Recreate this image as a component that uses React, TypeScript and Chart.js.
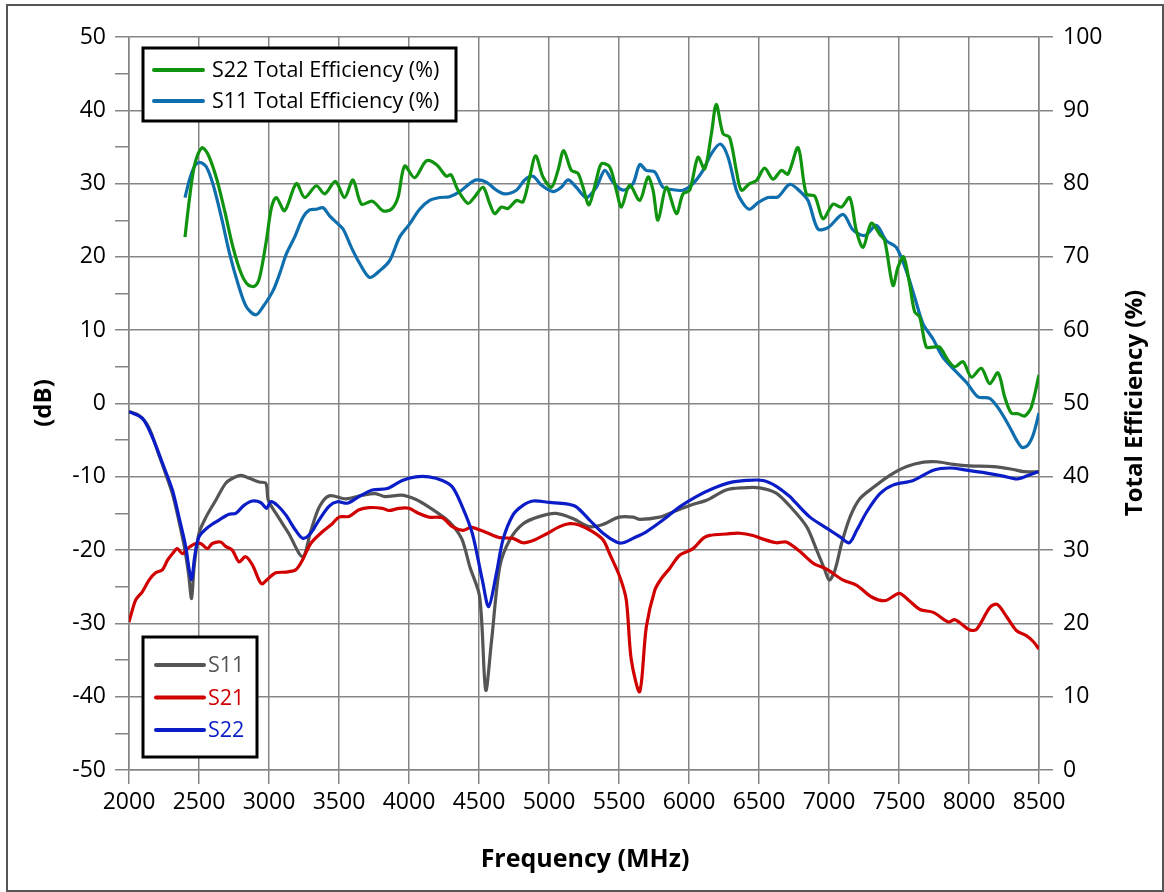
import React, { useEffect, useRef } from "react";
import { Chart, registerables } from "chart.js";

Chart.register(...registerables);

const FONT = "'Open Sans', sans-serif";
const GRID = "#858585";

// Axis ranges / ticks
const xMin = 2000;
const xMax = 8500;
const xStep = 500;
const dbMin = -50;
const dbMax = 50;
const effMin = 0;
const effMax = 100;

// S11 (dB)
const s11Freq = [2000, 2070, 2140, 2210, 2260, 2310, 2355, 2395, 2425, 2447, 2465, 2500, 2550, 2620, 2690, 2740, 2800, 2860, 2930, 2978, 2995, 3050, 3140, 3240, 3300, 3360, 3430, 3550, 3670, 3760, 3830, 3950, 4050, 4140, 4260, 4320, 4380, 4435, 4505, 4548, 4590, 4648, 4720, 4815, 4935, 5050, 5170, 5290, 5385, 5500, 5600, 5650, 5790, 5885, 6005, 6125, 6265, 6385, 6505, 6620, 6720, 6840, 6912, 6970, 7002, 7043, 7090, 7150, 7220, 7320, 7435, 7555, 7675, 7770, 7890, 8005, 8175, 8315, 8390, 8500];
const s11Db = [-1.1, -1.6, -3.2, -6.8, -9.5, -12.3, -15.9, -19.5, -23.2, -26.6, -22.3, -17.7, -15.5, -13.2, -10.9, -10.2, -9.8, -10.2, -10.7, -10.9, -13.2, -15, -17.7, -20.9, -17.3, -14.1, -12.6, -13, -12.5, -12.3, -12.7, -12.5, -13.1, -14.1, -15.7, -16.8, -18.6, -22.3, -26.4, -39.1, -32.3, -22.3, -18.6, -16.4, -15.4, -15, -15.7, -16.8, -16.5, -15.5, -15.5, -15.8, -15.5, -14.8, -13.9, -13.2, -11.8, -11.5, -11.5, -12.2, -14, -16.8, -20, -22.7, -24.1, -22.7, -19.1, -15.5, -13, -11.4, -9.8, -8.6, -8, -7.95, -8.3, -8.5, -8.6, -9, -9.3, -9.3];

// S21 (dB)
const s21Freq = [2000, 2048, 2095, 2143, 2190, 2238, 2274, 2310, 2345, 2381, 2417, 2464, 2512, 2560, 2595, 2655, 2690, 2738, 2786, 2833, 2881, 2929, 2952, 2988, 3048, 3119, 3190, 3238, 3298, 3381, 3452, 3500, 3571, 3643, 3714, 3810, 3857, 3929, 4000, 4071, 4143, 4238, 4310, 4386, 4445, 4552, 4648, 4743, 4814, 4886, 4981, 5076, 5148, 5219, 5314, 5386, 5433, 5505, 5552, 5588, 5648, 5695, 5755, 5802, 5862, 5933, 6029, 6100, 6148, 6267, 6362, 6457, 6529, 6624, 6695, 6793, 6888, 6983, 7102, 7198, 7305, 7400, 7502, 7567, 7650, 7745, 7852, 7900, 8007, 8055, 8150, 8202, 8269, 8340, 8412, 8460, 8500];
const s21Db = [-29.8, -26.8, -25.7, -24.1, -23.1, -22.7, -21.4, -20.5, -19.8, -20.5, -19.8, -19.2, -19.1, -19.8, -19.1, -18.9, -19.5, -20, -21.6, -20.9, -22, -24.1, -24.6, -24, -23.1, -23, -22.7, -21.4, -19.1, -17.5, -16.4, -15.5, -15.4, -14.5, -14.2, -14.3, -14.6, -14.3, -14.3, -15, -15.5, -15.6, -16.8, -17.3, -16.9, -17.6, -18.3, -18.4, -19, -18.7, -17.8, -16.8, -16.4, -16.6, -17.5, -18.6, -20.5, -23.6, -26.8, -35, -39.3, -30.5, -25.5, -23.9, -22.5, -20.7, -19.8, -18.4, -18, -17.8, -17.7, -18, -18.5, -19, -18.9, -20.2, -21.8, -22.6, -24.1, -24.8, -26.4, -26.9, -25.9, -26.8, -28.1, -28.5, -29.8, -29.5, -30.9, -30.8, -27.8, -27.4, -29.1, -31, -31.7, -32.5, -33.5];

// S22 (dB)
const s22Freq = [2000, 2095, 2165, 2240, 2310, 2357, 2405, 2430, 2448, 2469, 2500, 2570, 2643, 2714, 2762, 2821, 2881, 2940, 2983, 3012, 3060, 3120, 3190, 3243, 3298, 3357, 3430, 3488, 3560, 3643, 3738, 3845, 3952, 4048, 4143, 4238, 4310, 4381, 4452, 4524, 4569, 4624, 4671, 4743, 4814, 4886, 5005, 5124, 5195, 5290, 5386, 5481, 5529, 5600, 5695, 5814, 5933, 6052, 6171, 6290, 6410, 6529, 6624, 6720, 6760, 6864, 6983, 7079, 7145, 7198, 7269, 7364, 7460, 7602, 7745, 7864, 7983, 8126, 8245, 8340, 8412, 8495];
const s22Db = [-1.1, -2, -4.5, -8.2, -11.8, -15.5, -19.5, -22.7, -24, -20.9, -18.2, -16.8, -15.9, -15.1, -15, -13.9, -13.3, -13.5, -14.3, -13.4, -13.9, -15.2, -17.3, -18.4, -17.7, -15.9, -14, -13.4, -13.6, -12.7, -11.8, -11.6, -10.5, -10, -10, -10.5, -11.4, -14.1, -17.7, -24.1, -27.7, -23.2, -18.6, -15.2, -13.9, -13.3, -13.5, -13.7, -14.1, -15.9, -17.7, -18.9, -19, -18.4, -17.5, -15.9, -14.1, -12.7, -11.6, -10.8, -10.5, -10.5, -11.3, -12.7, -13.5, -15.5, -17, -18.2, -19, -17.3, -14.8, -12.3, -11.1, -10.5, -9.1, -8.8, -9.1, -9.5, -9.9, -10.3, -9.9, -9.3];

// S22 Total Efficiency (%)
const e22Freq = [2400, 2433, 2469, 2521, 2564, 2624, 2683, 2743, 2802, 2850, 2898, 2933, 2981, 3017, 3052, 3112, 3195, 3255, 3338, 3398, 3474, 3540, 3600, 3660, 3738, 3814, 3874, 3921, 3969, 4040, 4124, 4195, 4267, 4300, 4350, 4421, 4469, 4529, 4576, 4612, 4660, 4707, 4767, 4814, 4862, 4905, 4957, 5017, 5064, 5105, 5160, 5207, 5243, 5286, 5338, 5374, 5433, 5481, 5517, 5576, 5648, 5707, 5743, 5779, 5838, 5910, 5957, 6005, 6064, 6112, 6160, 6195, 6243, 6290, 6338, 6374, 6433, 6481, 6540, 6600, 6660, 6707, 6779, 6838, 6898, 6957, 7029, 7088, 7148, 7195, 7243, 7302, 7362, 7398, 7457, 7493, 7533, 7576, 7612, 7648, 7695, 7743, 7790, 7850, 7898, 7957, 8017, 8088, 8148, 8207, 8255, 8302, 8350, 8398, 8445, 8500];
const e22Eff = [72.7, 78.1, 82.6, 84.9, 84, 80.8, 76.3, 71.3, 67.7, 66.2, 66, 67.2, 72.2, 76.7, 78.1, 76.3, 80, 78.1, 79.7, 78.6, 80.3, 78.1, 80.5, 77.2, 77.6, 76.3, 76.5, 78.1, 82.4, 80.8, 83.1, 82.6, 81, 81.2, 79.1, 77.3, 78.2, 79.5, 77.3, 75.9, 76.8, 76.6, 77.7, 77.5, 80.9, 83.8, 80.9, 79.5, 81.8, 84.5, 81.8, 81.4, 79.5, 77.1, 80.5, 82.7, 82.3, 79.1, 76.8, 79.8, 77.7, 80.9, 79.1, 75, 79.5, 75.9, 78.6, 79.1, 83.6, 82, 86.8, 90.8, 86.8, 86.3, 81.8, 79.1, 80, 80.4, 82.1, 80.6, 81.8, 81.3, 84.9, 78.6, 78.3, 75.2, 77.2, 76.8, 78.1, 73.6, 71.3, 74.6, 73.1, 72.2, 66.1, 68.6, 70, 66.3, 62.5, 61.8, 57.7, 57.7, 57.7, 55.9, 55, 55.7, 53.6, 54.8, 52.7, 54.2, 50.9, 48.7, 48.6, 48.3, 49.5, 53.9];

// S11 Total Efficiency (%)
const e11Freq = [2400, 2433, 2469, 2505, 2552, 2600, 2660, 2719, 2779, 2838, 2905, 2957, 3029, 3076, 3124, 3183, 3243, 3290, 3338, 3386, 3433, 3481, 3529, 3588, 3648, 3719, 3790, 3862, 3933, 4005, 4076, 4148, 4219, 4290, 4362, 4433, 4481, 4552, 4624, 4683, 4767, 4826, 4886, 4945, 5029, 5088, 5136, 5195, 5267, 5338, 5398, 5457, 5529, 5600, 5648, 5695, 5755, 5814, 5874, 5957, 6029, 6100, 6160, 6224, 6279, 6338, 6386, 6433, 6493, 6564, 6636, 6719, 6790, 6850, 6921, 6993, 7100, 7171, 7255, 7338, 7410, 7481, 7552, 7612, 7671, 7743, 7814, 7910, 7981, 8064, 8148, 8219, 8290, 8340, 8380, 8420, 8460, 8500];
const e11Eff = [78.1, 80.6, 82.4, 82.9, 82.3, 79.9, 75.4, 70.4, 66.3, 63.2, 62.1, 63.2, 65.4, 67.7, 70.4, 72.7, 75.4, 76.4, 76.5, 76.7, 75.6, 74.7, 73.8, 71.3, 69.1, 67.2, 68.1, 69.5, 72.7, 74.5, 76.5, 77.7, 78.1, 78.2, 78.9, 80, 80.5, 80.2, 79.1, 78.6, 79.1, 80.5, 81, 79.8, 78.9, 79.5, 80.5, 79.5, 78.1, 79.5, 81.8, 80.2, 79.1, 80, 82.6, 81.8, 81.6, 79.5, 79.2, 79.1, 80, 81.8, 84.1, 85.4, 83.6, 79.1, 77.3, 76.5, 77.4, 78.1, 78.2, 79.9, 79, 77.7, 73.8, 74, 75.8, 73.7, 72.9, 74.3, 72.2, 71.3, 68.1, 64.5, 60.9, 58.8, 56.3, 54.3, 52.9, 50.9, 50.7, 49.1, 46.8, 45, 44, 44.3, 45.8, 48.7];

const effLegend = ["S22 Total Efficiency (%)", "S11 Total Efficiency (%)"];
const sLegend = ["S11", "S21", "S22"];

const C_GREEN = "#10930e";
const C_EFFBLUE = "#0f6ead";
const C_GRAY = "#555555";
const C_RED = "#d10000";
const C_BLUE = "#0b1dc6";

const pts = (xs: number[], ys: number[]) => xs.map((x, i) => ({ x, y: ys[i] }));

const overlayPlugin = {
  id: "overlay",
  afterDraw(chart: any) {
    const ctx = chart.ctx as CanvasRenderingContext2D;
    ctx.save();
    // outer frame
    ctx.strokeStyle = "#555";
    ctx.lineWidth = 2;
    ctx.strokeRect(7, 5, 1156, 886);

    // axis titles
    ctx.fillStyle = "#000";
    ctx.font = `bold 25px ${FONT}`;
    ctx.textAlign = "center";
    ctx.textBaseline = "middle";
    ctx.fillText("Frequency (MHz)", 585, 860);

    ctx.font = `bold 24px ${FONT}`;
    ctx.save();
    ctx.translate(44, 403);
    ctx.rotate(-Math.PI / 2);
    ctx.fillText("(dB)", 0, 0);
    ctx.restore();
    ctx.save();
    ctx.translate(1135, 403);
    ctx.rotate(-Math.PI / 2);
    ctx.fillText("Total Efficiency (%)", 0, 0);
    ctx.restore();

    // legend boxes
    const box = (x: number, y: number, w: number, h: number) => {
      ctx.fillStyle = "#fff";
      ctx.fillRect(x, y, w, h);
      ctx.strokeStyle = "#000";
      ctx.lineWidth = 3;
      ctx.strokeRect(x, y, w, h);
    };
    const sample = (x1: number, x2: number, y: number, color: string) => {
      ctx.strokeStyle = color;
      ctx.lineWidth = 4;
      ctx.lineCap = "round";
      ctx.beginPath();
      ctx.moveTo(x1, y);
      ctx.lineTo(x2, y);
      ctx.stroke();
    };
    box(143, 48, 313, 73);
    ctx.font = `21.5px ${FONT}`;
    ctx.textAlign = "left";
    ctx.textBaseline = "middle";
    const effColors = [C_GREEN, C_EFFBLUE];
    effLegend.forEach((t, i) => {
      const y = 70 + i * 31;
      sample(154, 203, y, effColors[i]);
      ctx.fillStyle = "#000";
      ctx.fillText(t, 212, y + 1);
    });

    box(143, 637, 114, 120);
    const sColors = [C_GRAY, C_RED, C_BLUE];
    sLegend.forEach((t, i) => {
      const y = 665 + i * 32.5;
      sample(156, 204, y, sColors[i]);
      ctx.fillStyle = sColors[i];
      ctx.fillText(t, 208, y + 1);
    });
    ctx.restore();
  },
};

export default function App() {
  const ref = useRef<HTMLCanvasElement | null>(null);

  useEffect(() => {
    if (!ref.current) return;
    const tickFont = { family: FONT, size: 23 };
    const line = (label: string, xs: number[], ys: number[], color: string, axis: string, order: number) => ({
      label,
      data: pts(xs, ys),
      borderColor: color,
      backgroundColor: color,
      borderWidth: 3.2,
      pointRadius: 0,
      tension: 0.3,
      fill: false,
      yAxisID: axis,
      order,
    });
    const chart = new Chart(ref.current, {
      type: "line",
      data: {
        datasets: [
          line("S22 Total Efficiency (%)", e22Freq, e22Eff, C_GREEN, "y1", 4),
          line("S11 Total Efficiency (%)", e11Freq, e11Eff, C_EFFBLUE, "y1", 5),
          line("S11", s11Freq, s11Db, C_GRAY, "y", 3),
          line("S21", s21Freq, s21Db, C_RED, "y", 2),
          line("S22", s22Freq, s22Db, C_BLUE, "y", 1),
        ] as any,
      },
      options: {
        responsive: false,
        animation: false,
        layout: { padding: { top: 37, left: 0, right: 0, bottom: 0 } },
        plugins: { legend: { display: false }, tooltip: { enabled: false } },
        scales: {
          x: {
            type: "linear",
            min: xMin,
            max: xMax,
            ticks: {
              stepSize: xStep,
              font: tickFont,
              color: "#000",
              padding: 5,
              maxRotation: 0,
              autoSkip: false,
              callback: (v: any) => String(v),
            },
            grid: { color: GRID, lineWidth: 1.5, tickLength: 14, tickColor: GRID },
            border: { color: GRID, width: 1.5 },
            afterFit: (s: any) => {
              s.height = 122;
            },
          },
          y: {
            type: "linear",
            position: "left",
            min: dbMin,
            max: dbMax,
            ticks: {
              stepSize: 5,
              font: tickFont,
              color: "#000",
              padding: 9,
              autoSkip: false,
              callback: (v: any) => (Number(v) % 10 === 0 ? String(v) : ""),
            },
            grid: {
              color: (c: any) => (c.tick && Math.abs(c.tick.value % 10) !== 0 ? "rgba(0,0,0,0)" : GRID),
              lineWidth: 1.5,
              tickLength: 14,
              tickColor: GRID,
            },
            border: { color: GRID, width: 1.5 },
            afterFit: (s: any) => {
              s.width = 129;
            },
          },
          y1: {
            type: "linear",
            position: "right",
            min: effMin,
            max: effMax,
            ticks: {
              stepSize: 10,
              font: tickFont,
              color: "#000",
              padding: 10,
              autoSkip: false,
              callback: (v: any) => String(v),
            },
            grid: { drawOnChartArea: false, lineWidth: 1.5, tickLength: 14, tickColor: GRID, color: GRID },
            border: { color: GRID, width: 1.5 },
            afterFit: (s: any) => {
              s.width = 125;
            },
          },
        },
      } as any,
      plugins: [overlayPlugin],
    });
    return () => chart.destroy();
  }, []);

  return (
    <div style={{ position: "fixed", left: 0, top: 0, width: 1164, height: 892, background: "#fff" }}>
      <canvas ref={ref} width={1164} height={892} style={{ display: "block" }} />
    </div>
  );
}
